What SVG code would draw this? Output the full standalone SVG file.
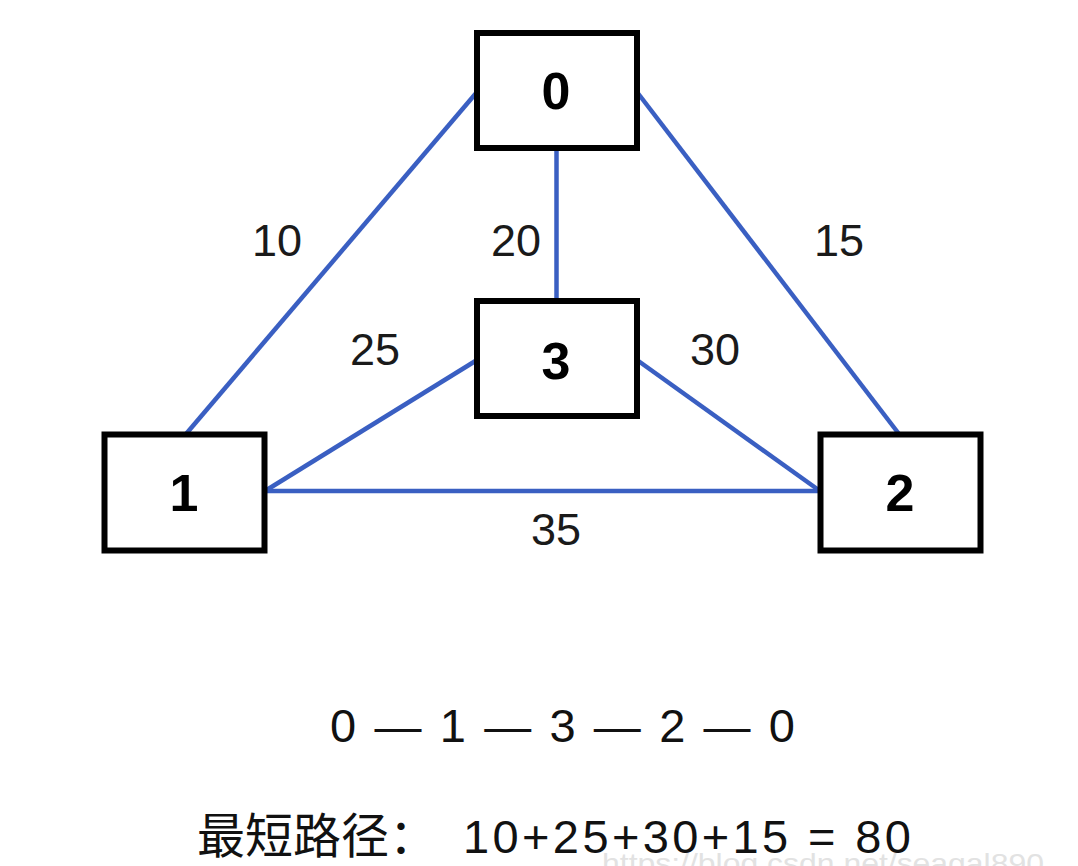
<svg xmlns="http://www.w3.org/2000/svg" width="1078" height="866" viewBox="0 0 1078 866">
  <style>
    .box { fill: #ffffff; stroke: #000000; stroke-width: 6; }
    .nlabel { font-family: "Liberation Sans", Arial, sans-serif; font-size: 52px; font-weight: bold; fill: #000000; text-anchor: middle; }
    .elabel { font-family: "Liberation Sans", Arial, sans-serif; font-size: 45px; fill: #1a1a1a; text-anchor: middle; }
    .edge { stroke: #3a5fc2; stroke-width: 4.5; fill: none; stroke-linecap: butt; }
    .caption { font-family: "Liberation Sans", Arial, "Noto Sans CJK SC", sans-serif; font-size: 47px; fill: #111111; }
    .mark { font-family: "Liberation Sans", Arial, sans-serif; font-size: 28px; fill: #e2e2e2; }
  </style>
  <rect x="0" y="0" width="1078" height="866" fill="#ffffff"/>

  <g id="connectors">
    <line class="edge" x1="477" y1="92" x2="186" y2="434"/>
    <line class="edge" x1="637" y1="92" x2="899" y2="434"/>
    <line class="edge" x1="556.5" y1="148" x2="556.5" y2="301"/>
    <line class="edge" x1="477" y1="360" x2="265" y2="491"/>
    <line class="edge" x1="637" y1="360" x2="820" y2="491"/>
    <line class="edge" x1="265" y1="491" x2="820" y2="491"/>
  </g>

  <g id="edge-labels">
    <text class="elabel" x="277" y="256">10</text>
    <text class="elabel" x="516" y="256">20</text>
    <text class="elabel" x="839" y="256">15</text>
    <text class="elabel" x="375" y="365">25</text>
    <text class="elabel" x="715" y="365">30</text>
    <text class="elabel" x="556" y="545">35</text>
  </g>

  <g id="node-0">
    <rect class="box" x="477" y="33" width="160" height="115"/>
    <text class="nlabel" x="556" y="109">0</text>
  </g>
  <g id="node-3">
    <rect class="box" x="477" y="301" width="160" height="115"/>
    <text class="nlabel" x="556" y="379">3</text>
  </g>
  <g id="node-1">
    <rect class="box" x="104.5" y="434.5" width="160" height="116"/>
    <text class="nlabel" x="184" y="511">1</text>
  </g>
  <g id="node-2">
    <rect class="box" x="820.5" y="434.5" width="160" height="116"/>
    <text class="nlabel" x="900" y="511">2</text>
  </g>

  <g id="captions">
    <text class="caption" x="330" y="742" textLength="465" lengthAdjust="spacing">0 — 1 — 3 — 2 — 0</text>
    <text class="caption" x="197" y="853" style="font-family: 'Noto Sans CJK SC', sans-serif; font-size: 48px;">最短路径：</text>
    <text class="caption" x="463" y="853" textLength="448" lengthAdjust="spacing">10+25+30+15 = 80</text>
  </g>

  <text class="mark" x="602" y="873" textLength="442" lengthAdjust="spacingAndGlyphs">https://blog.csdn.net/seagal890</text>
</svg>
